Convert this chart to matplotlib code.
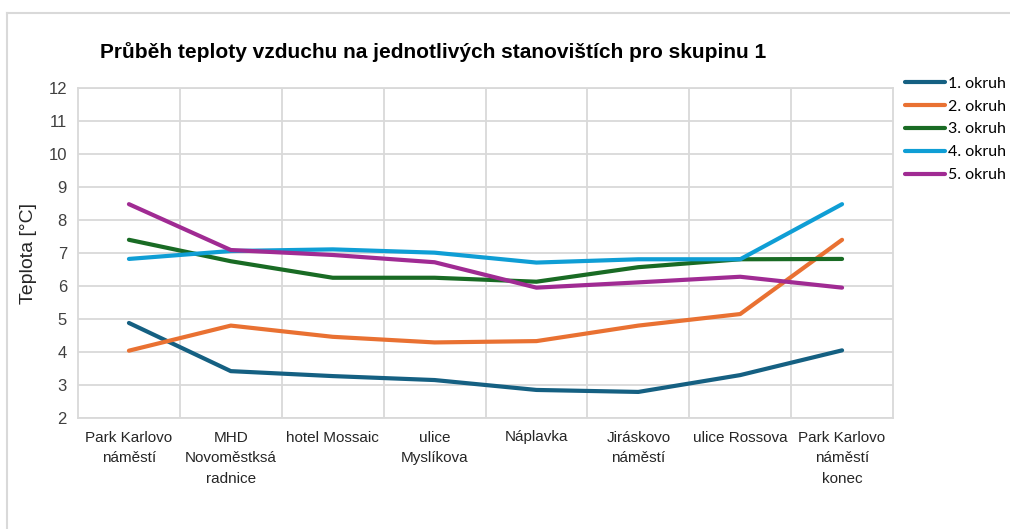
import matplotlib
matplotlib.use("Agg")
import matplotlib.pyplot as plt
from matplotlib.lines import Line2D

categories = ["Park Karlovo\nnáměstí", "MHD\nNovoměstksá\nradnice", "hotel Mossaic",
              "ulice\nMyslíkova", "Náplavka", "Jiráskovo\nnáměstí", "ulice Rossova",
              "Park Karlovo\nnáměstí\nkonec"]
okruh1 = [4.88, 3.42, 3.27, 3.15, 2.85, 2.79, 3.30, 4.05]
okruh2 = [4.04, 4.80, 4.46, 4.29, 4.33, 4.80, 5.15, 7.40]
okruh3 = [7.40, 6.75, 6.25, 6.25, 6.13, 6.57, 6.81, 6.82]
okruh4 = [6.82, 7.06, 7.11, 7.01, 6.71, 6.81, 6.81, 8.48]
okruh5 = [8.48, 7.09, 6.94, 6.72, 5.95, 6.11, 6.28, 5.95]
series_names = ["1. okruh", "2. okruh", "3. okruh", "4. okruh", "5. okruh"]
colors = ["#156082", "#E97132", "#196B24", "#0F9ED5", "#A02B93"]
yticks = list(range(2, 13))

fig = plt.figure(figsize=(10.10, 5.29), dpi=100)
ax = fig.add_axes([78/1010, 1-418/529, (893-78)/1010, (418-88)/529])

x = list(range(len(categories)))
handles = []
for name, vals, c in zip(series_names, [okruh1, okruh2, okruh3, okruh4, okruh5], colors):
    h, = ax.plot(x, vals, color=c, lw=3.0, solid_capstyle="round", label=name, zorder=3)
    handles.append(h)

ax.set_xlim(-0.5, len(categories) - 0.5)
ax.set_ylim(2, 12)
ax.set_yticks(yticks)
ax.set_yticklabels([str(t) for t in yticks], fontsize=12, family="Liberation Sans", color="#404040")
ax.set_xticks(x)
ax.set_xticklabels(categories, fontsize=11, family="Liberation Sans",
                   linespacing=1.6, color="#262626")
ax.set_xticks([i + 0.5 for i in range(len(categories) - 1)], minor=True)
ax.tick_params(axis="both", which="both", length=0)
ax.tick_params(axis="y", pad=8)
ax.tick_params(axis="x", pad=9)
ax.grid(True, axis="y", which="major", color="#D9D9D9", lw=1.3, zorder=0)
ax.grid(True, axis="x", which="minor", color="#D9D9D9", lw=1.3, zorder=0)
ax.grid(False, axis="x", which="major")
for s in ax.spines.values():
    s.set_color("#D9D9D9")
    s.set_linewidth(1.3)

ax.set_ylabel("Teplota [°C]", fontsize=14, family="Liberation Sans", color="#262626", labelpad=8)

fig.text(100/1010, 1-52/529, "Průběh teploty vzduchu na jednotlivých stanovištích pro skupinu 1",
         fontsize=15, fontweight="bold", family="Liberation Sans",
         va="center", ha="left", color="#000000")

leg = fig.legend(handles=handles, labels=series_names, loc="upper left",
                 bbox_to_anchor=(899/1010, 1-70/529), frameon=False,
                 prop={"family": "Lato", "size": 11.5}, handlelength=2.5,
                 handletextpad=0.15, labelspacing=0.55, borderaxespad=0)

# chart frame (top and left edges)
fig.add_artist(Line2D([7/1010, 1.0], [1-13/529, 1-13/529], color="#D9D9D9", lw=1.5,
                      transform=fig.transFigure))
fig.add_artist(Line2D([7/1010, 7/1010], [0, 1-13/529], color="#D9D9D9", lw=1.5,
                      transform=fig.transFigure))

fig.savefig("out.png", dpi=100, facecolor="white")
